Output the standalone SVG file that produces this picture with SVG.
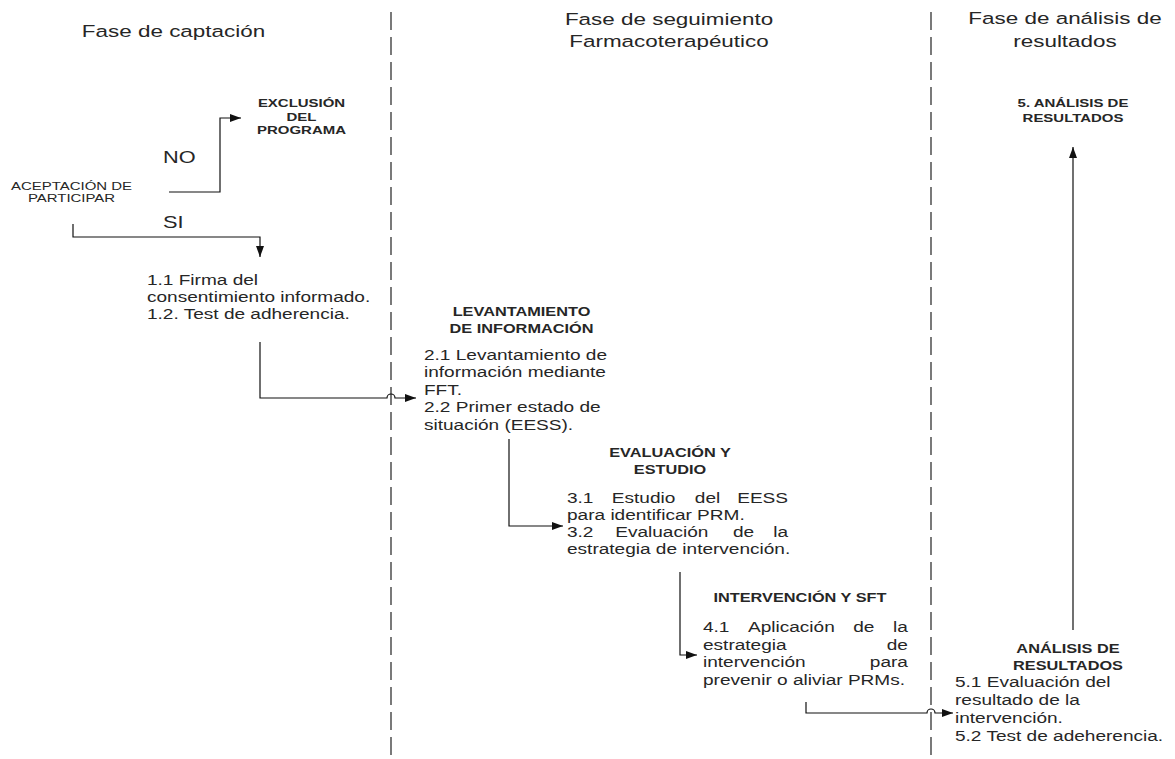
<svg xmlns="http://www.w3.org/2000/svg" width="1175" height="759" viewBox="0 0 1175 759">
<style>
.t{font-family:"Liberation Sans",Arial,sans-serif;fill:#262626}
.title{font-size:16.5px}
.body{font-size:14px}
.lbl{font-size:12px;font-weight:bold}
.lbls{font-size:11px;font-weight:bold}
.small{font-size:11px}
.yn{font-size:16px}
.mid{text-anchor:middle}
.end{text-anchor:end}
.conn{fill:none;stroke:#111;stroke-width:1.2}
.lane{stroke:#333;stroke-width:1.3;stroke-dasharray:18 7;fill:none}
</style>
<defs>
<marker id="ah" markerUnits="userSpaceOnUse" markerWidth="11" markerHeight="8" refX="11" refY="4" orient="auto">
<path d="M0,0 L11,4 L0,8 z" fill="#111"/>
</marker>
</defs>
<rect width="1175" height="759" fill="#fff"/>
<g id="lanes">
<line class="lane" x1="391" y1="12" x2="391" y2="756"/>
<line class="lane" x1="931" y1="12" x2="931" y2="756"/>
</g>
<g id="titulo-captacion" class="t title" transform="translate(173.5,0) scale(1.36,1)">
<text class="mid" x="0" y="37">Fase de captación</text>
</g>
<g id="titulo-seguimiento" class="t title" transform="translate(669,0) scale(1.36,1)">
<text class="mid" x="0" y="25">Fase de seguimiento</text>
<text class="mid" x="0" y="47">Farmacoterapéutico</text>
</g>
<g id="titulo-analisis" class="t title" transform="translate(1065,0) scale(1.36,1)">
<text class="mid" x="0" y="24">Fase de análisis de</text>
<text class="mid" x="0" y="47">resultados</text>
</g>
<g id="aceptacion" class="t small" transform="translate(71.5,0) scale(1.36,1)">
<text class="mid" x="0" y="190">ACEPTACIÓN DE</text>
<text class="mid" x="0" y="202">PARTICIPAR</text>
</g>
<g id="exclusion" class="t lbls" transform="translate(301.5,0) scale(1.36,1)">
<text class="mid" x="0" y="107">EXCLUSIÓN</text>
<text class="mid" x="0" y="121">DEL</text>
<text class="mid" x="0" y="134">PROGRAMA</text>
</g>
<g id="paso1" class="t body" transform="translate(147,0) scale(1.36,1)">
<text x="0" y="285">1.1 Firma del</text>
<text x="0" y="302">consentimiento informado.</text>
<text x="0" y="319">1.2. Test de adherencia.</text>
</g>
<g id="levantamiento" class="t lbl" transform="translate(521.5,0) scale(1.36,1)">
<text class="mid" x="0" y="316">LEVANTAMIENTO</text>
<text class="mid" x="0" y="333">DE INFORMACIÓN</text>
</g>
<g id="paso2" class="t body" transform="translate(424,0) scale(1.36,1)">
<text x="0" y="360">2.1 Levantamiento de</text>
<text x="0" y="377.5">información mediante</text>
<text x="0" y="395">FFT.</text>
<text x="0" y="412.5">2.2 Primer estado de</text>
<text x="0" y="430">situación (EESS).</text>
</g>
<g id="evaluacion" class="t lbl" transform="translate(670,0) scale(1.36,1)">
<text class="mid" x="0" y="457">EVALUACIÓN Y</text>
<text class="mid" x="0" y="474">ESTUDIO</text>
</g>
<g id="paso3" class="t body" transform="translate(567,0) scale(1.36,1)">
<text y="503"><tspan x="0">3.1</tspan><tspan x="33">Estudio</tspan><tspan x="94">del</tspan></text>
<text class="end" x="162.5" y="503">EESS</text>
<text x="0" y="520">para identificar PRM.</text>
<text y="537"><tspan x="0">3.2</tspan><tspan x="35.5">Evaluación</tspan><tspan x="122">de</tspan></text>
<text class="end" x="162.5" y="537">la</text>
<text x="0" y="554">estrategia de intervención.</text>
</g>
<g id="intervencion" class="t lbl" transform="translate(800,0) scale(1.36,1)">
<text class="mid" x="0" y="602">INTERVENCIÓN Y SFT</text>
</g>
<g id="paso4" class="t body" transform="translate(703,0) scale(1.36,1)">
<text y="632"><tspan x="0">4.1</tspan><tspan x="33.1">Aplicación</tspan><tspan x="110.5">de</tspan></text>
<text class="end" x="150.7" y="632">la</text>
<text x="0" y="650">estrategia</text>
<text class="end" x="150.7" y="650">de</text>
<text x="0" y="667.5">intervención</text>
<text class="end" x="150.7" y="667.5">para</text>
<text x="0" y="685">prevenir o aliviar PRMs.</text>
</g>
<g id="analisis-titulo" class="t lbl" transform="translate(1068,0) scale(1.36,1)">
<text class="mid" x="0" y="653">ANÁLISIS DE</text>
<text class="mid" x="0" y="670">RESULTADOS</text>
</g>
<g id="paso5" class="t body" transform="translate(955,0) scale(1.36,1)">
<text x="0" y="687">5.1 Evaluación del</text>
<text x="0" y="705">resultado de la</text>
<text x="0" y="723">intervención.</text>
<text x="0" y="741">5.2 Test de adeherencia.</text>
</g>
<g id="analisis-final" class="t lbls" transform="translate(1073,0) scale(1.36,1)">
<text class="mid" x="0" y="107">5. ANÁLISIS DE</text>
<text class="mid" x="0" y="122">RESULTADOS</text>
</g>
<g id="connectors">
<path class="conn" d="M169,192 H220 V118 H241" marker-end="url(#ah)"/>
<path class="conn" d="M73,224 V237 H260 V257" marker-end="url(#ah)"/>
<path class="conn" d="M260,342 V398 H387 a4,4 0 0 1 8,0 H416" marker-end="url(#ah)"/>
<path class="conn" d="M509,439 V526 H563" marker-end="url(#ah)"/>
<path class="conn" d="M680,572 V655 H697" marker-end="url(#ah)"/>
<path class="conn" d="M806,702 V713 H927 a4,4 0 0 1 8,0 H953" marker-end="url(#ah)"/>
<path class="conn" d="M1073,630 V147" marker-end="url(#ah)"/>
<g class="t yn" transform="translate(163,0) scale(1.36,1)">
<text x="0" y="163">NO</text>
<text x="0" y="228">SI</text>
</g>
</g>
</svg>
